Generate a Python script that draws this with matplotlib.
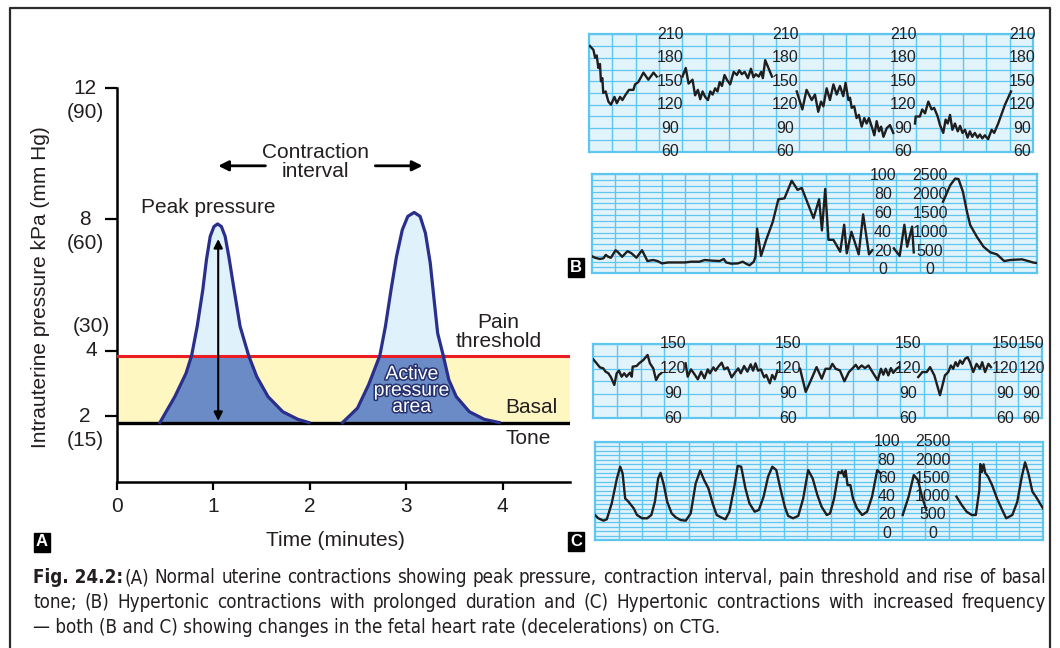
"""Uterine contraction diagram (A) plus two CTG strips (B, C) with caption."""

import matplotlib
matplotlib.use("Agg")

import matplotlib.pyplot as plt  # noqa: E402
import matplotlib.patheffects as pe  # noqa: E402
import numpy as np  # noqa: E402
from matplotlib import font_manager  # noqa: E402

W, H = 1060, 648
NAN = np.nan

# ---------------------------------------------------------------------------
# Panel A data (time in minutes, pressure in kPa)
# ---------------------------------------------------------------------------
TONE = 1.81
PAIN = 3.85
A_T1 = [0.445, 0.60, 0.716, 0.774, 0.832, 0.89, 0.928, 0.967, 1.006, 1.044,
        1.083, 1.122, 1.16, 1.21, 1.277, 1.366, 1.45, 1.567, 1.72, 1.876, 1.99]
A_P1 = [1.81, 2.60, 3.31, 3.85, 4.74, 5.85, 6.77, 7.48, 7.78, 7.86,
        7.78, 7.48, 6.87, 5.95, 4.74, 3.85, 3.21, 2.60, 2.14, 1.91, 1.81]
A_T2 = [2.34, 2.495, 2.61, 2.727, 2.785, 2.843, 2.90, 2.96, 3.017, 3.083,
        3.145, 3.20, 3.25, 3.29, 3.327, 3.385, 3.443, 3.52, 3.656, 3.81, 3.965]
A_P2 = [1.81, 2.25, 2.96, 3.85, 4.74, 5.85, 6.87, 7.68, 8.09, 8.21,
        8.09, 7.58, 6.67, 5.55, 4.53, 3.85, 3.11, 2.60, 2.14, 1.91, 1.81]
A_XTICKS = [0, 1, 2, 3, 4]
A_YTICKS = [2, 4, 8, 12]
A_YMMHG = ["(15)", "(30)", "(60)", "(90)"]

# ---------------------------------------------------------------------------
# CTG strips (x in grid columns, 19 columns per strip)
# ---------------------------------------------------------------------------
B_FHR_X = [0.04, 0.19, 0.26, 0.33, 0.40, 0.47, 0.51, 0.57, 0.61, 0.71, 0.83, 0.94,
           1.09, 1.19, 1.33, 1.43, 1.57, 1.71, 1.90, 1.97, 2.11, 2.33, 2.54, 2.76, 2.90, NAN,
           4.00, 4.14, 4.26, 4.43, 4.54, 4.66, 4.76, 4.86, 4.97, 5.09, 5.19, 5.29, 5.40,
           5.50, 5.59, 5.69, 5.80, 5.90, 6.04, 6.19, 6.33, 6.43, 6.54, 6.66, 6.80, 6.93,
           7.04, 7.14, 7.26, 7.37, 7.44, 7.54, 7.69, 7.83, NAN,
           8.89, 9.13, 9.31, 9.53, 9.67, 9.81, 9.93, 10.03, 10.17, 10.31, 10.46, 10.60,
           10.74, 10.88, 10.98, 11.10, 11.17, 11.24, 11.35, 11.45, 11.55, 11.67, 11.78,
           11.88, 11.98, 12.10, 12.21, 12.31, 12.41, 12.50, 12.60, 12.74, 12.88, 13.02, NAN,
           13.95, 13.98, 14.16, 14.26, 14.38, 14.52, 14.66, 14.77, 14.92, 15.02, 15.16,
           15.26, 15.35, 15.45, 15.55, 15.66, 15.78, 15.88, 15.98, 16.09, 16.20, 16.30,
           16.40, 16.51, 16.63, 16.73, 16.83, 16.94, 17.08, 17.23, 17.34, 17.51, 17.80, 18.06]
B_FHR_Y = [195, 190, 180, 183, 167, 172, 150, 154, 135, 137, 124, 120,
           130, 122, 130, 126, 133, 139, 139, 146, 149, 161, 152, 161, 156, NAN,
           156, 167, 147, 152, 132, 139, 127, 137, 130, 126, 137, 133, 141,
           137, 149, 144, 158, 152, 146, 162, 158, 164, 159, 162, 154, 166,
           155, 159, 156, 162, 154, 177, 166, 156, NAN,
           137, 114, 139, 126, 133, 111, 124, 118, 141, 126, 146, 133,
           144, 131, 148, 126, 129, 116, 118, 103, 107, 92, 103,
           96, 103, 92, 81, 99, 86, 92, 79, 90, 94, 84, NAN,
           96, 105, 105, 114, 109, 124, 114, 116, 105, 94, 84,
           101, 96, 107, 88, 96, 86, 93, 84, 88, 78, 86,
           79, 84, 78, 82, 77, 81, 76, 88, 84, 96, 120, 137]

B_UC_X = [0.0, 0.14, 0.35, 0.50, 0.60, 0.71, 0.82, 1.02, 1.13, 1.30, 1.53, 1.70, 1.91,
          2.15, 2.38, 2.62, 2.81, 3.00, 3.26, 3.54, 3.97, 4.25, 4.60, 4.82, 5.17, 5.46,
          5.64, 5.74, 5.96, 6.24, 6.45, 6.59, 6.74, 6.92, 6.99, 7.06, 7.23, 7.45, 7.73,
          7.97, 8.23, 8.54, 8.79, 8.97, 9.47, 9.71, 9.83, 9.97, 10.11, 10.32, 10.61,
          10.78, 10.89, 11.09, 11.40, 11.59, 11.84, 11.98, NAN,
          12.90, 13.15, 13.35, 13.47, 13.68, 13.75, NAN,
          15.00, 15.31, 15.52, 15.66, 15.85, 16.02, 16.16, 16.45, 16.73, 17.02, 17.30,
          17.61, 17.87, 18.37, 18.58, 18.87, 19.0]
B_UC_Y = [14.8, 13, 11.7, 12.4, 16, 14, 13, 21, 18.7, 14, 20, 17.7, 13,
          21, 9.5, 10.6, 9.5, 7, 8, 8, 8, 8.8, 8.8, 10.6, 9.9, 9.5,
          11.7, 8, 6.7, 7, 8.8, 6.7, 5, 8.8, 14, 44, 15, 32, 51,
          75, 76, 94.7, 85, 87, 55, 75, 42, 86, 32, 32, 19.4,
          48, 17.7, 40.6, 16.6, 59, 16.6, 21, NAN,
          23, 15, 48, 24.7, 46, 18.7, NAN,
          72.4, 90, 97, 96.5, 83, 62, 47.7, 35, 24.7, 18.7, 16.6,
          9.5, 10.6, 11.3, 9.9, 7.8, 7.5]

C_FHR_X = [0.0, 0.14, 0.28, 0.42, 0.52, 0.64, 0.75, 0.89, 0.99, 1.09, 1.20, 1.31, 1.41,
           1.55, 1.63, 1.67, 1.84, 1.94, 2.12, 2.30, 2.40, 2.54, 2.66, 2.78, 2.87, NAN,
           3.91, 4.00, 4.14, 4.28, 4.43, 4.57, 4.71, 4.85, 4.94, 5.09, 5.18, 5.30, 5.44,
           5.55, 5.69, 5.86, 6.00, 6.14, 6.25, 6.39, 6.53, 6.67, 6.77, 6.87, 6.98, 7.10,
           7.24, 7.33, 7.48, 7.58, 7.69, 7.80, NAN,
           8.76, 9.00, 9.25, 9.46, 9.68, 9.84, 10.03, 10.13, 10.27, 10.45, 10.64, 10.83,
           10.97, 11.12, 11.23, 11.37, 11.51, 11.66, 11.83, 12.05, 12.19, 12.29, 12.39,
           12.50, 12.61, 12.71, 12.85, 12.95, NAN,
           13.77, 13.94, 14.13, 14.27, 14.45, 14.69, 14.90, 15.04, 15.15, 15.25, 15.35,
           15.44, 15.54, 15.64, 15.75, 15.86, 15.96, 16.10, 16.24, 16.38, 16.48, 16.60,
           16.74, 16.85]
C_FHR_Y = [131.4, 126.6, 121.7, 120.5, 116.5, 114.5, 109.6, 100.4, 114.5, 117.7, 110.4,
           114.5, 110.4, 115.3, 110.4, 122.6, 123.4, 126.6, 130.6, 136.7, 126.6, 120.5,
           106.4, 112.5, 114.5, NAN,
           126.6, 110.4, 119.3, 113.7, 107.2, 116.5, 108.4, 119.3, 114.5, 121.7, 117.7,
           122.6, 127.4, 119.3, 121.7, 109.6, 115.3, 120.5, 114.5, 123.4, 116.5, 125.4,
           117.7, 126.6, 117.7, 119.3, 109.6, 112.5, 102.4, 112.5, 107.2, 117.7, NAN,
           120, 92, 108, 122, 108, 120, 120, 126, 120, 118, 104.8, 116,
           120, 124.8, 120, 124, 120.8, 124, 116, 106, 120, 112.8, 120,
           112, 120.8, 115, 120, 122, NAN,
           110, 116, 116, 122, 112, 88, 112, 116, 124, 120, 128,
           123.2, 130, 126, 132, 134, 128, 116, 126, 120, 128, 116,
           126, 122]

C_UC_X = [0.0, 0.14, 0.36, 0.50, 0.71, 0.93, 1.07, 1.17, 1.28, 1.42, 1.64, 1.78, 2.00,
          2.21, 2.39, 2.54, 2.68, 2.78, 2.92, 3.06, 3.25, 3.42, 3.63, 3.85, 4.06, 4.27,
          4.46, 4.63, 4.81, 4.99, 5.16, 5.34, 5.53, 5.70, 5.91, 6.05, 6.20, 6.38, 6.55,
          6.77, 6.95, 7.15, 7.34, 7.52, 7.69, 7.86, 8.05, 8.19, 8.40, 8.62, 8.83, 9.04,
          9.23, 9.43, 9.61, 9.83, 9.97, 10.14, 10.33, 10.43, 10.48, 10.57, 10.63, 10.71,
          10.83, 10.94, 11.11, 11.33, 11.54, 11.75, 11.97, 12.11, NAN,
          13.05, 13.30, 13.52, 13.70, 13.87, 14.05, NAN,
          15.33, 15.55, 15.76, 15.98, 16.15, 16.30, 16.34, 16.41, 16.48, 16.55, 16.67,
          16.84, 17.05, 17.27, 17.44, 17.70, 17.91, 18.10, 18.24, 18.38, 18.55, 18.70,
          18.87, 19.0]
C_UC_Y = [20, 16.4, 13.8, 15.3, 32.7, 60, 72.7, 65.5, 38, 34.5, 27.3, 20, 16.4,
          16.4, 20, 34.5, 60, 66, 52.7, 34.5, 21.8, 17.5, 14.5, 13.8, 21.8, 54.5,
          68.4, 58, 49, 32.7, 20, 17.5, 15.3, 23.6, 51, 73.5, 72.7, 49, 32.7,
          23.6, 25.5, 40, 61.8, 72.7, 69, 49, 29, 19, 16.4, 19, 38, 69,
          60, 41.8, 29, 20, 21.8, 38, 67, 65.5, 68.4, 61.8, 68.4, 52.7,
          52.7, 38, 27.3, 20, 23.6, 40, 69, 65.5, NAN,
          20, 40, 63.6, 58, 40, 25.5, NAN,
          40, 31, 23.6, 20, 20, 47.3, 75.6, 67, 75.3, 66, 61.8,
          52.7, 38, 25.5, 16.4, 20, 34.5, 61.8, 77.5, 65.5, 45.5, 40,
          32.7, 27.3]

FHR_LABELS_B = [210, 180, 150, 120, 90, 60]
FHR_LABELS_C = [150, 120, 90, 60]
UC_PCT = [100, 80, 60, 40, 20, 0]
UC_ABS = [2500, 2000, 1500, 1000, 500, 0]
B_FHR_LABEL_COLS = [3.47, 8.39, 13.44, 18.53]
C_FHR_LABEL_COLS = [3.38, 8.25, 13.33, 17.43, 18.57]
B_UC_LABEL_COLS = [12.44, 14.45]
C_UC_LABEL_COLS = [12.37, 14.33]

CAPTION_BOLD = "Fig. 24.2:"
CAPTION_LINES = [
    "(A) Normal uterine contractions showing peak pressure, contraction interval, "
    "pain threshold and rise of basal",
    "tone; (B) Hypertonic contractions with prolonged duration and (C) Hypertonic "
    "contractions with increased frequency",
    "\u2014 both (B and C) showing changes in the fetal heart rate (decelerations) on CTG.",
]

# ---------------------------------------------------------------------------
# Styles
# ---------------------------------------------------------------------------
INK = "#231f20"
NAVY = "#2a2f8c"
DARK_FILL = "#6b8bc6"
LIGHT_FILL = "#dff1fa"
YELLOW = "#fff7c2"
RED = "#ec1c24"
STRIP_BG = "#e1f3fb"
GRID = "#5ec6ef"
SANS = "Liberation Sans"

_names = {f.name for f in font_manager.fontManager.ttflist}
if "Liberation Sans Narrow" in _names:
    CAP_FONT = dict(family="Liberation Sans Narrow")
elif any(f.name == "DejaVu Sans" and f.stretch == "condensed" for f in font_manager.fontManager.ttflist):
    CAP_FONT = dict(family="DejaVu Sans", stretch="condensed")
else:
    CAP_FONT = dict(family=SANS)

plt.rcParams["font.family"] = [SANS, "DejaVu Sans"]

fig = plt.figure(figsize=(W / 100, H / 100), dpi=100)


def px_axes(left, top, right, bottom):
    """Axes placed by pixel edges (origin top-left)."""
    return fig.add_axes([left / W, 1 - bottom / H, (right - left) / W, (bottom - top) / H])


# ---------------------------------------------------------------------------
# Panel A
# ---------------------------------------------------------------------------
ax = px_axes(117, 88, 570, 482)
XMAX = 4.7
ax.set_xlim(0, XMAX)
ax.set_ylim(0, 12)

ax.fill_between([0, XMAX], TONE, PAIN, color=YELLOW, lw=0, zorder=1)
for t, p in ((A_T1, A_P1), (A_T2, A_P2)):
    t = np.array(t)
    p = np.array(p)
    ax.fill_between(t, TONE, np.minimum(p, PAIN), color=DARK_FILL, lw=0, zorder=2)
    ax.fill_between(t, PAIN, p, where=p >= PAIN, color=LIGHT_FILL, lw=0, zorder=2)
ax.axhline(PAIN, color=RED, lw=2.2, zorder=3)
ax.axhline(TONE, color="black", lw=2.4, zorder=3)
for t, p in ((A_T1, A_P1), (A_T2, A_P2)):
    ax.plot(t, p, color=NAVY, lw=2.3, zorder=4, solid_joinstyle="round")

ax.annotate("", xy=(1.05, 7.40), xytext=(1.05, 1.86),
            arrowprops=dict(arrowstyle="<|-|>", color="black", lw=1.5,
                            mutation_scale=13, shrinkA=0, shrinkB=0), zorder=5)
ax.annotate("", xy=(1.05, 9.63), xytext=(1.54, 9.63),
            arrowprops=dict(arrowstyle="-|>", color="black", lw=2,
                            mutation_scale=15, shrinkA=0, shrinkB=0))
ax.annotate("", xy=(3.17, 9.63), xytext=(2.68, 9.63),
            arrowprops=dict(arrowstyle="-|>", color="black", lw=2,
                            mutation_scale=15, shrinkA=0, shrinkB=0))

ax.text(2.06, 9.75, "Contraction\ninterval", ha="center", va="center",
        fontsize=15, color=INK, linespacing=1.0)
ax.text(0.945, 8.35, "Peak pressure", ha="center", va="center", fontsize=15, color=INK)
ax.text(3.96, 4.57, "Pain\nthreshold", ha="center", va="center", fontsize=15,
        color=INK, linespacing=1.0)
ax.text(4.03, 2.26, "Basal", ha="left", va="center", fontsize=15, color=INK)
ax.text(4.03, 1.31, "Tone", ha="left", va="center", fontsize=15, color=INK)
ax.text(3.06, 2.77, "Active\npressure\narea", ha="center", va="center", fontsize=14,
        color="white", linespacing=0.95, zorder=6,
        path_effects=[pe.withStroke(linewidth=2.2, foreground="#25306e")])

for s in ("top", "right"):
    ax.spines[s].set_visible(False)
for s in ("left", "bottom"):
    ax.spines[s].set_linewidth(1.8)
ax.set_xticks(A_XTICKS)
ax.set_xticklabels([str(v) for v in A_XTICKS], fontsize=15, color=INK)
ax.tick_params(axis="x", length=6, width=1.6, pad=5)
ax.set_yticks(A_YTICKS)
ax.set_yticklabels([])
ax.tick_params(axis="y", length=9, width=1.6)
ytx = ax.get_yaxis_transform()
for v, mm in zip(A_YTICKS, A_YMMHG):
    dx = -26 if v == 4 else -32
    dy = 24 if v == 4 else -24
    ax.annotate(str(v), xy=(0, v), xycoords=ytx, xytext=(dx, 0), textcoords="offset pixels",
                ha="center", va="center", fontsize=15, color=INK)
    ax.annotate(mm, xy=(0, v), xycoords=ytx, xytext=(dx, dy), textcoords="offset pixels",
                ha="center", va="center", fontsize=15, color=INK)


# ---------------------------------------------------------------------------
# CTG strips
# ---------------------------------------------------------------------------
def draw_strip(sax, xs, ys, ylim, hrows, labels):
    sax.set_xlim(0, 19)
    sax.set_ylim(*ylim)
    sax.set_facecolor(STRIP_BG)
    for k in range(1, 19):
        sax.axvline(k, color=GRID, lw=1.0, zorder=1)
    for r in hrows:
        sax.axhline(r, color=GRID, lw=0.9, zorder=1)
    for s in sax.spines.values():
        s.set_color(GRID)
        s.set_linewidth(1.6)
    sax.set_xticks([])
    sax.set_yticks([])
    sax.plot(xs, ys, color="#1e1e1e", lw=1.7, zorder=3)
    for col, texts, pos in labels:
        for txt, y in zip(texts, pos):
            sax.text(col, y, str(txt), ha="center", va="center", fontsize=11.5,
                     color=INK, zorder=4, clip_on=False)


b1 = px_axes(589, 34.3, 1033, 151.7)
draw_strip(b1, B_FHR_X, B_FHR_Y, (60, 210), np.arange(60, 211, 15),
           [(c, FHR_LABELS_B, FHR_LABELS_B) for c in B_FHR_LABEL_COLS])

b2 = px_axes(591.7, 174.3, 1036.7, 273.3)
draw_strip(b2, B_UC_X, B_UC_Y, (-3.5, 101.5), np.linspace(-3.5, 101.5, 18),
           [(B_UC_LABEL_COLS[0], UC_PCT, UC_PCT), (B_UC_LABEL_COLS[1], UC_ABS, UC_PCT)])

c1 = px_axes(593.3, 344, 1041.7, 418.3)
draw_strip(c1, C_FHR_X, C_FHR_Y, (60, 150), np.arange(60, 151, 15),
           [(c, FHR_LABELS_C, FHR_LABELS_C) for c in C_FHR_LABEL_COLS])

c2 = px_axes(595, 441.7, 1043, 540)
draw_strip(c2, C_UC_X, C_UC_Y, (-7.3, 100), np.linspace(-7.3, 100, 23),
           [(C_UC_LABEL_COLS[0], UC_PCT, UC_PCT), (C_UC_LABEL_COLS[1], UC_ABS, UC_PCT)])

# ---------------------------------------------------------------------------
# Overlay (pixel coordinates): frame, labels, caption
# ---------------------------------------------------------------------------
ov = fig.add_axes([0, 0, 1, 1])
ov.set_xlim(0, W)
ov.set_ylim(H, 0)
ov.axis("off")
ov.set_zorder(10)
ov.patch.set_alpha(0)

ov.plot([10, 10, 1050, 1050], [H + 5, 8, 8, H + 5], color="#2b2b2b", lw=1.6, clip_on=False)

ov.text(41, 287, "Intrauterine pressure kPa (mm Hg)", rotation=90, ha="center",
        va="center", fontsize=15, color=INK)
ov.text(335, 540, "Time (minutes)", ha="center", va="center", fontsize=15, color=INK)

for lab, x, y in (("A", 41.5, 542), ("B", 576, 267), ("C", 576, 541)):
    ov.text(x, y, lab, ha="center", va="center", fontsize=12, fontweight="bold",
            color="white", bbox=dict(boxstyle="square,pad=0.12", fc="black", ec="black"))

# Caption: bold lead-in, regular text, first two lines justified
renderer = fig.canvas.get_renderer()
CAP_X, CAP_RIGHT = 33, 1046
CAP_Y = [583, 608, 633]
BOLD_GAP = 1.5


def _width(t):
    return t.get_window_extent(renderer).width


def _measure(s, size, **kw):
    t = ov.text(CAP_X, CAP_Y[0], s, fontsize=size, **kw, **CAP_FONT)
    w = _width(t)
    t.remove()
    return w


w_line1 = (_measure(CAPTION_BOLD, 13, fontweight="bold") + BOLD_GAP
           + _measure(CAPTION_LINES[0], 13))
w_line2 = _measure(CAPTION_LINES[1], 13)
size = 13 * (CAP_RIGHT - CAP_X) / max(w_line1, w_line2)
space = _measure("a a", size) - _measure("aa", size)


def caption_line(y, tokens):
    """tokens: (text, bold) pairs; word gaps are stretched to fill the line."""
    arts = [ov.text(CAP_X, y, s, fontsize=size, fontweight="bold" if b else "normal",
                    va="baseline", ha="left", color=INK, **CAP_FONT) for s, b in tokens]
    widths = [_width(a) for a in arts]
    gaps = [BOLD_GAP if tokens[i][1] else space for i in range(len(tokens) - 1)]
    stretch = [i for i in range(len(gaps)) if not tokens[i][1]]
    extra = (CAP_RIGHT - CAP_X) - sum(widths) - sum(gaps)
    for i in stretch:
        gaps[i] += extra / len(stretch)
    x = CAP_X
    for i, a in enumerate(arts):
        a.set_x(x)
        if i < len(gaps):
            x += widths[i] + gaps[i]


caption_line(CAP_Y[0], [(CAPTION_BOLD, True)] + [(w, False) for w in CAPTION_LINES[0].split()])
caption_line(CAP_Y[1], [(w, False) for w in CAPTION_LINES[1].split()])
ov.text(CAP_X, CAP_Y[2], CAPTION_LINES[2], fontsize=size, va="baseline", ha="left",
        color=INK, **CAP_FONT)

fig.savefig("out.png", dpi=100)
